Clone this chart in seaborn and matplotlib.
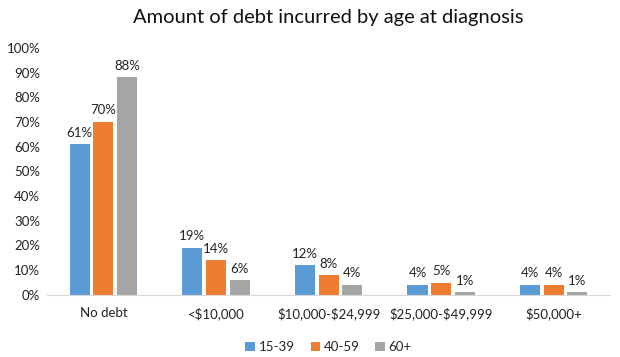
import numpy as np
import pandas as pd
import matplotlib
matplotlib.use('Agg')
import matplotlib.pyplot as plt
import seaborn as sns

categories = ['No debt', '<$10,000', '$10,000-$24,999', '$25,000-$49,999', '$50,000+']
age_groups = ['15-39', '40-59', '60+']
pct_15_39 = [61, 19, 12, 4, 4]
pct_40_59 = [70, 14, 8, 5, 4]
pct_60_plus = [88, 6, 4, 1, 1]

df = pd.DataFrame({
    'category': categories * 3,
    'age': np.repeat(age_groups, len(categories)),
    'pct': pct_15_39 + pct_40_59 + pct_60_plus,
})

sns.set_style('white')
plt.rcParams['font.family'] = ['Lato', 'DejaVu Sans']
plt.rcParams['text.parse_math'] = False

colors = ['#5B9BD5', '#ED7D31', '#A5A5A5']

fig = plt.figure(figsize=(6.2, 3.57), dpi=100)
ax = fig.add_axes([0.076, 0.174, 0.908, 0.692])
sns.barplot(data=df, x='category', y='pct', hue='age', order=categories,
            hue_order=age_groups, palette=colors, width=0.63, gap=0.15,
            saturation=1, edgecolor='none', ax=ax)

for cont in ax.containers:
    ax.bar_label(cont, labels=[f'{v:.0f}%' for v in cont.datavalues],
                 padding=4, fontsize=9.5, color='#222222')

ax.set_ylim(0, 100)
ax.set_yticks(range(0, 101, 10))
ax.set_yticklabels([f'{v}%' for v in range(0, 101, 10)])
ax.tick_params(axis='both', labelsize=9.5, colors='#222222', length=0)
ax.tick_params(axis='x', pad=9)
ax.tick_params(axis='y', pad=5)
ax.set_xlabel('')
ax.set_ylabel('')
for s in ['top', 'right', 'left']:
    ax.spines[s].set_visible(False)
ax.spines['bottom'].set_color('#D9D9D9')

fig.suptitle('Amount of debt incurred by age at diagnosis', x=0.529, y=0.975,
             fontsize=14.5, color='#111111')

ax.legend(loc='upper center', bbox_to_anchor=(0.5, -0.14), ncol=3, frameon=False,
          fontsize=9.5, handlelength=0.7, handleheight=0.7, handletextpad=0.3,
          columnspacing=1.2)

fig.savefig('out.png', dpi=100)
